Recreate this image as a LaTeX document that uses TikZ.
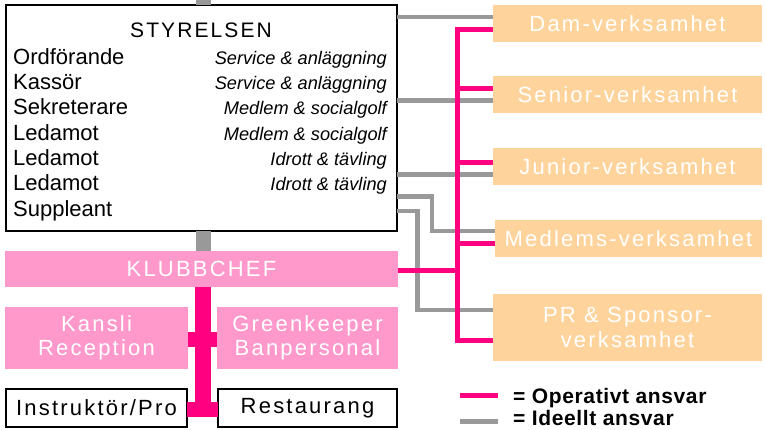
\documentclass[tikz,border=0pt]{standalone}
\usepackage{fontspec}
\setmainfont{Liberation Sans}
\newfontfamily\spc[LetterSpace=10]{Liberation Sans}
\newfontfamily\lgd[LetterSpace=3]{Liberation Sans}
\definecolor{gry}{HTML}{999999}
\definecolor{mag}{HTML}{FF0080}
\definecolor{pnk}{HTML}{FF99CC}
\definecolor{org}{HTML}{FFD49C}
\begin{document}
\begin{tikzpicture}[x=1pt,y=-1pt,
  box/.style={rectangle, inner sep=0pt, outer sep=0pt, anchor=north west, align=center,
    font=\spc\fontsize{22}{24.5}\selectfont},
  pinkbox/.style={box, fill=pnk, text=white},
  orgbox/.style={box, fill=org, text=white},
  wbox/.style={box, draw=black, line width=1.2pt, text=black},
  role/.style={anchor=base west, inner sep=0pt, font=\fontsize{22}{25}\selectfont},
  area/.style={anchor=base east, inner sep=0pt, font=\itshape\fontsize{18.2}{22}\selectfont},
  gline/.style={draw=gry, line width=4.5pt},
  gthick/.style={draw=gry, line width=15pt},
  mline/.style={draw=mag, line width=5pt},
  mthick/.style={draw=mag, line width=16pt},
  mbar/.style={draw=mag, line width=15pt},
  legtext/.style={anchor=base west, inner sep=0pt, font=\lgd\bfseries\fontsize{21}{24}\selectfont}
]
\path[use as bounding box, fill=white] (0,0) rectangle (765,429);

% named helper coordinates
\coordinate (top) at (203,0);
\coordinate (bot) at (203,417);
\coordinate (sp) at (457.5,0);
\coordinate (c4) at (432,231);
\coordinate (c5) at (417.5,310);
\coordinate (sp5) at (457.5,340);

% Styrelsen
\node[wbox, minimum width=391pt, minimum height=226pt] (sty) at (6,5) {};
\node[anchor=base, inner sep=0pt, font=\spc\fontsize{21}{22}\selectfont] (title) at (201,37) {STYRELSEN};
\node[role] (r1) at (13,64) {Ordförande};
\node[role] (r2) at (13,89.3) {Kassör};
\node[role] (r3) at (13,114.7) {Sekreterare};
\node[role] (r4) at (13,140) {Ledamot};
\node[role] (r5) at (13,165.3) {Ledamot};
\node[role] (r6) at (13,190.7) {Ledamot};
\node[role] (r7) at (13,216) {Suppleant};
\node[area] (a1) at (387,64) {Service \& anläggning};
\node[area] (a2) at (387,89.3) {Service \& anläggning};
\node[area] (a3) at (387,114.7) {Medlem \& socialgolf};
\node[area] (a4) at (387,140) {Medlem \& socialgolf};
\node[area] (a5) at (387,165.3) {Idrott \& tävling};
\node[area] (a6) at (387,190.7) {Idrott \& tävling};

% left column
\node[pinkbox, minimum width=393pt, minimum height=36pt] (klub) at (5,251) {KLUBBCHEF};
\node[pinkbox, minimum width=183pt, minimum height=62pt] (kansli) at (5,307) {Kansli\\Reception};
\node[pinkbox, minimum width=181pt, minimum height=62pt] (green) at (217,307) {Greenkeeper\\Banpersonal};
\node[wbox, minimum width=181pt, minimum height=38pt] (instr) at (6,389) {Instruktör/Pro};
\node[wbox, minimum width=179pt, minimum height=38pt] (rest) at (218,389) {Restaurang};

% right column
\node[orgbox, minimum width=269pt, minimum height=37pt] (dam) at (493,5) {Dam-verksamhet};
\node[orgbox, minimum width=269pt, minimum height=37pt] (senior) at (493,76) {Senior-verksamhet};
\node[orgbox, minimum width=269pt, minimum height=37pt] (junior) at (493,148) {Junior-verksamhet};
\node[orgbox, minimum width=267pt, minimum height=37pt] (medl) at (495,220) {Medlems-verksamhet};
\node[orgbox, minimum width=269pt, minimum height=67pt] (pr) at (493,294) {PR \& Sponsor-\\verksamhet};

% gray (ideellt) connectors
\draw[gthick] (top) -- (sty.north -| top);
\draw[gthick] (sty.south -| top) -- (klub.north -| top);
\draw[gline] (sty.east |- 0,17) -- (dam.west |- 0,17);
\draw[gline] (sty.east |- 0,100.5) -- (senior.west |- 0,100.5);
\draw[gline] (sty.east |- 0,174.5) -- (junior.west |- 0,174.5);
\draw[gline] (sty.east |- 0,196.5) -| (c4) -- (medl.west |- c4);
\draw[gline] (sty.east |- 0,211) -| (c5) -- (pr.west |- c5);

% magenta (operativt) connectors
\draw[mthick] (klub.south -| top) -- (bot);
\draw[mbar] (kansli.east |- 0,339.5) -- (green.west |- 0,339.5);
\draw[mbar] (instr.east |- 0,409.5) -- (rest.west |- 0,409.5);
\draw[mline] (dam.west |- 0,29.5) -| (sp5) -- (pr.west |- sp5);
\draw[mline] (sp |- 0,88.5) -- (senior.west |- 0,88.5);
\draw[mline] (sp |- 0,162.5) -- (junior.west |- 0,162.5);
\draw[mline] (sp |- 0,243.5) -- (medl.west |- 0,243.5);
\draw[mline] (klub.east |- 0,270.5) -- (sp |- 0,270.5);

% legend
\coordinate (l1a) at (460,395.5);
\coordinate (l1b) at (498,395.5);
\coordinate (l2a) at (460,421.7);
\coordinate (l2b) at (498,421.7);
\draw[mline, line width=5.5pt] (l1a) -- (l1b);
\draw[gline, line width=5pt] (l2a) -- (l2b);
\node[legtext] (leg1) at (513,403.3) {= Operativt ansvar};
\node[legtext] (leg2) at (513,425.5) {= Ideellt ansvar};
\end{tikzpicture}
\end{document}
